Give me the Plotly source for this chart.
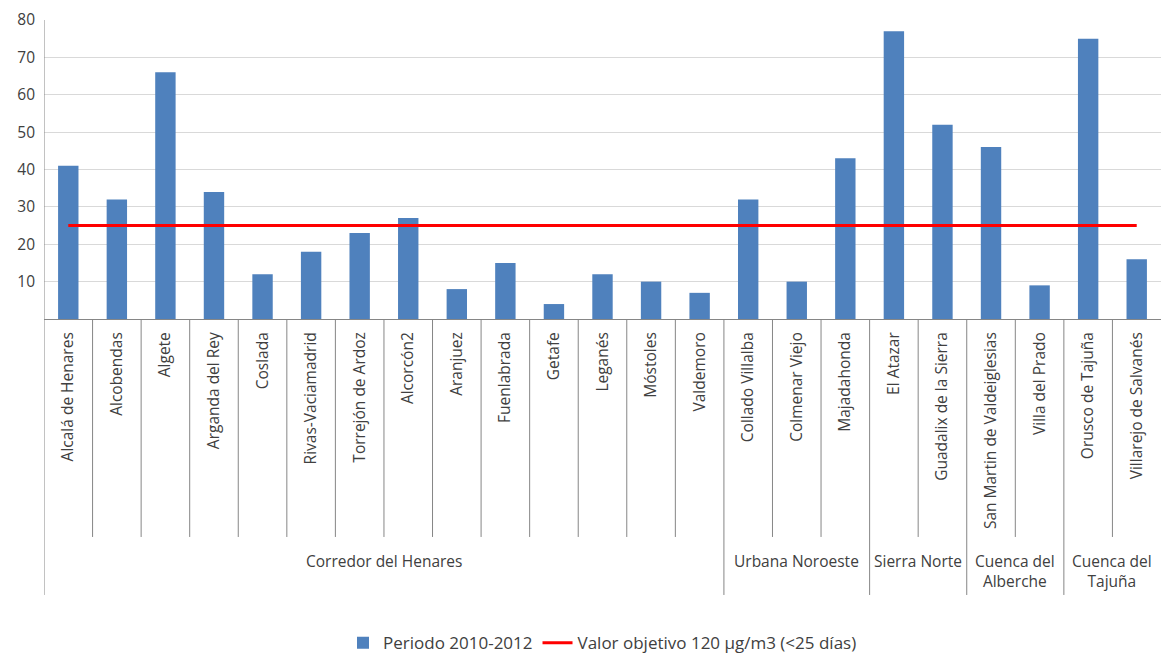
import plotly.graph_objects as go

stations = ["Alcalá de Henares", "Alcobendas", "Algete", "Arganda del Rey", "Coslada",
            "Rivas-Vaciamadrid", "Torrejón de Ardoz", "Alcorcón2", "Aranjuez", "Fuenlabrada",
            "Getafe", "Leganés", "Móstoles", "Valdemoro", "Collado Villalba", "Colmenar Viejo",
            "Majadahonda", "El Atazar", "Guadalix de la Sierra", "San Martin de Valdeiglesias",
            "Villa del Prado", "Orusco de Tajuña", "Villarejo de Salvanés"]
values = [41, 32, 66, 34, 12, 18, 23, 27, 8, 15, 4, 12, 10, 7, 32, 10, 43, 77, 52, 46, 9, 75, 16]
zones = ["Corredor del Henares", "Urbana Noroeste", "Sierra Norte",
         "Cuenca del<br>Alberche", "Cuenca del<br>Tajuña"]
zone_sizes = [14, 3, 2, 2, 2]
target = 25
yticks = [10, 20, 30, 40, 50, 60, 70, 80]

FONT = "Open Sans"
TXT = "#404040"
AX = "#868686"
FS = 15.5

fig = go.Figure()
fig.add_trace(go.Bar(x=stations, y=values, name="Periodo 2010-2012",
                     marker=dict(color="#4F81BD", line=dict(color="#4F81BD", width=0))))
fig.add_trace(go.Scatter(x=stations, y=[target] * len(stations), mode="lines",
                         name="Valor objetivo 120 µg/m3 (<25 días)",
                         line=dict(color="#FF0000", width=3)))

shapes = []
boundaries = set()
pos = 0
for s in zone_sizes:
    pos += s
    boundaries.add(pos)
for i in range(1, len(stations)):
    ybot = -0.923 if i in boundaries else -0.729
    shapes.append(dict(type="line", xref="x", yref="paper", x0=i - 0.5, x1=i - 0.5,
                       y0=0, y1=ybot, line=dict(color=AX, width=1)))
shapes.append(dict(type="line", xref="x", yref="paper", x0=-0.5, x1=-0.5,
                   y0=1, y1=-0.923, line=dict(color=AX, width=1)))

annotations = []
start = 0
for z, s in zip(zones, zone_sizes):
    center = start + (s - 1) / 2
    two = "<br>" in z
    annotations.append(dict(text=z, xref="x", yref="paper", x=center,
                            y=-0.765 if two else -0.81,
                            yanchor="top" if two else "middle",
                            showarrow=False, font=dict(family=FONT, size=FS, color=TXT),
                            align="center"))
    start += s

fig.update_layout(
    width=1161, height=655,
    margin=dict(l=44, r=0, t=20, b=336, autoexpand=False),
    plot_bgcolor="white", paper_bgcolor="white",
    bargap=0.58,
    showlegend=True,
    legend=dict(orientation="h", x=0.5, xanchor="center", yref="container",
                y=0.018, yanchor="middle",
                font=dict(family=FONT, size=17, color=TXT),
                traceorder="normal", itemwidth=30),
    xaxis=dict(type="category", categoryorder="array", categoryarray=stations,
               range=[-0.5, len(stations) - 0.5], automargin=False,
               showline=True, linecolor=AX, linewidth=1, showgrid=False,
               ticks="", tickangle=-90, tickfont=dict(family=FONT, size=FS, color=TXT),
               ticklabelstandoff=6),
    yaxis=dict(range=[0, 80], tickvals=yticks, showgrid=True, gridcolor="#D9D9D9",
               gridwidth=1, showline=False, zeroline=False, ticks="", automargin=False,
               tickfont=dict(family=FONT, size=FS, color=TXT), ticklabelstandoff=8),
    shapes=shapes, annotations=annotations,
    font=dict(family=FONT, color=TXT),
)

fig.write_html("out.html", config={"displayModeBar": False},
               post_script="document.body.style.margin='0';document.body.style.padding='0';")
